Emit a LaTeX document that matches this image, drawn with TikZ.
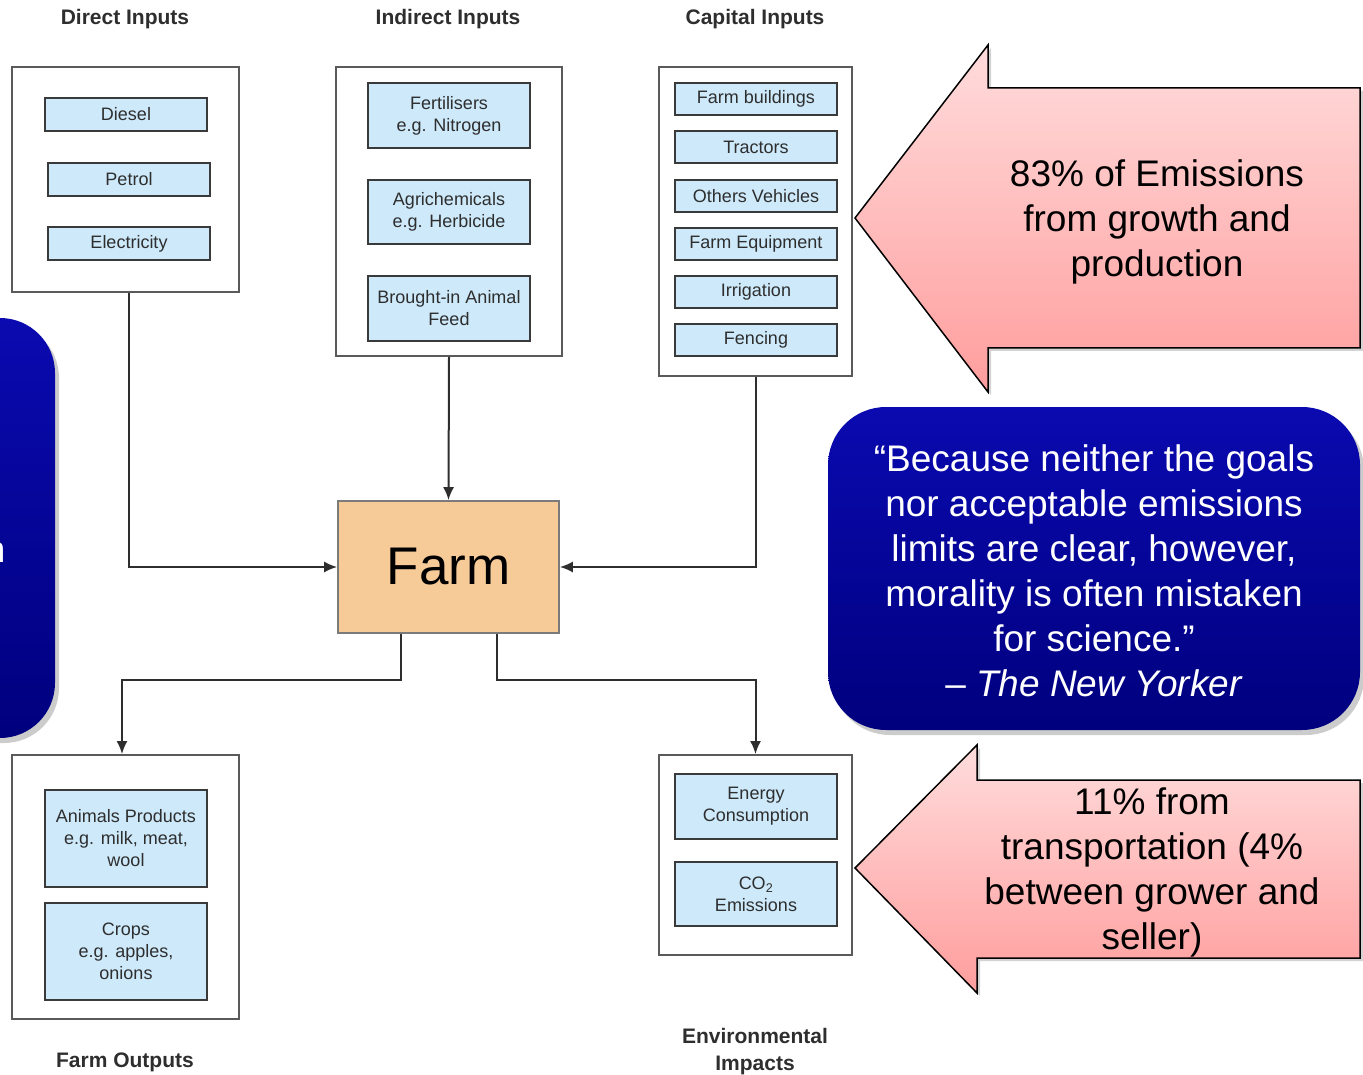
\documentclass[tikz,border=0pt]{standalone}
\usepackage{fontspec}
\setmainfont{Liberation Sans}
\usetikzlibrary{arrows.meta,calc,shadows}
\definecolor{boxblue}{HTML}{CDE9FA}
\definecolor{itemborder}{HTML}{3A3A3A}
\definecolor{outergray}{HTML}{5A5A5A}
\definecolor{textgray}{HTML}{2E2E2E}
\definecolor{farmfill}{HTML}{F7CB98}
\definecolor{pinktop}{HTML}{FFDCDC}
\definecolor{pinkbot}{HTML}{FF9D9D}
\definecolor{bluetop}{HTML}{0A0AB0}
\definecolor{bluebot}{HTML}{00007E}
\begin{document}
\begin{tikzpicture}[x=1pt,y=-1pt,
  outerbox/.style={draw=outergray, line width=1.8pt, fill=white, inner sep=0pt},
  item/.style={draw=itemborder, line width=1.6pt, fill=boxblue, inner sep=0pt,
    minimum width=162pt, align=center, font=\fontsize{18}{22}\selectfont, text=textgray},
  ttl/.style={font=\bfseries\fontsize{21}{27}\selectfont, text=textgray, align=center},
  conn/.style={draw=textgray, line width=2pt, -{Latex[length=13pt,width=11pt]}},
  bigtext/.style={font=\fontsize{37}{45}\selectfont, align=center},
  pinkarrow/.style={draw=black, line width=1.5pt, top color=pinktop, bottom color=pinkbot,
    drop shadow={shadow xshift=3pt, shadow yshift=-3pt, opacity=0.35, fill=gray}},
  bluebox/.style={top color=bluetop, bottom color=bluebot,
    drop shadow={shadow xshift=4pt, shadow yshift=-5pt, opacity=0.4, fill=gray}}]
\useasboundingbox (0,0) rectangle (1363,1075);

% left partial blue box
\path[bluebox, rounded corners=55pt] (-80,318) rectangle (55,738);
\node[text=white, font=\fontsize{37}{45}\selectfont, anchor=base east] (leftn) at (9,562) {n};

% titles
\node[ttl, anchor=base] (tdirect) at (125,25) {Direct Inputs};
\node[ttl, anchor=base] (tindirect) at (448,25) {Indirect Inputs};
\node[ttl, anchor=base] (tcapital) at (755,25) {Capital Inputs};
\node[ttl, anchor=base] (toutputs) at (125,1067) {Farm Outputs};
\node[ttl] (tenv) at (755,1052) {Environmental\\Impacts};

% outer boxes
\node[outerbox, minimum width=227pt, minimum height=225pt] (direct) at (125.5,179.5) {};
\node[outerbox, minimum width=226pt, minimum height=289pt] (indirect) at (449,211.5) {};
\node[outerbox, minimum width=193pt, minimum height=309pt] (capital) at (755.5,221.5) {};
\node[outerbox, minimum width=227pt, minimum height=264pt] (outputs) at (125.5,887) {};
\node[outerbox, minimum width=193pt, minimum height=200pt] (env) at (755.5,855) {};

% direct items
\node[item, minimum height=33pt] (diesel) at (126,114.5) {Diesel};
\node[item, minimum height=33pt] (petrol) at (129,179.5) {Petrol};
\node[item, minimum height=33pt] (elec) at (129,243.5) {Electricity};
% indirect items
\node[item, minimum height=65pt] (fert) at (449,115.5) {Fertilisers\\e.g. Nitrogen};
\node[item, minimum height=64pt] (agri) at (449,212) {Agrichemicals\\e.g. Herbicide};
\node[item, minimum height=65pt] (feed) at (449,308.5) {Brought-in Animal\\Feed};
% capital items
\node[item, minimum height=32pt] (build) at (756,99) {Farm buildings};
\node[item, minimum height=32pt] (tract) at (756,147) {Tractors};
\node[item, minimum height=32pt] (veh) at (756,196) {Others Vehicles};
\node[item, minimum height=32pt] (equip) at (756,244) {Farm Equipment};
\node[item, minimum height=32pt] (irr) at (756,292) {Irrigation};
\node[item, minimum height=32pt] (fence) at (756,340) {Fencing};
% outputs
\node[item, minimum height=97pt] (animal) at (126,838.5) {Animals Products\\e.g. milk, meat,\\wool};
\node[item, minimum height=97pt] (crops) at (126,951.5) {Crops\\e.g. apples,\\onions};
% environmental
\node[item, minimum height=65pt] (energy) at (756,806.5) {Energy\\Consumption};
\node[item, minimum height=64pt] (co2) at (756,894) {CO\textsubscript{2}\\Emissions};

% farm
\node[draw=outergray!80, line width=1.6pt, fill=farmfill, minimum width=221pt, minimum height=132pt,
  font=\fontsize{53}{60}\selectfont, inner sep=0pt] (farm) at (448.5,567) {Farm};

% connectors
\draw[conn] ([xshift=3.5pt]direct.south) |- (farm.west);
\draw[conn] (indirect.south) -- (farm.north);
\draw[conn] (capital.south) |- (farm.east);
\draw[conn] ($(farm.south)+(-47.5,0)$) |- ($(outputs.north)+(-3.5,-74)$) -- ([xshift=-3.5pt]outputs.north);
\draw[conn] ($(farm.south)+(48.5,0)$) |- ($(env.north)+(0,-74)$) -- (env.north);

% pink arrows
\path[pinkarrow] (855,218) -- (988,45) -- (988,88) -- (1360,88) -- (1360,348) -- (988,348) -- (988,392) -- cycle;
\node[bigtext] (t83) at (1157,222) {83\% of Emissions\\from growth and\\production};
\path[pinkarrow] (855,868) -- (977,745) -- (977,780) -- (1360,780) -- (1360,958) -- (977,958) -- (977,993) -- cycle;
\node[bigtext] (t11) at (1152,872) {11\% from\\transportation (4\%\\between grower and\\seller)};

% quote box
\node[bluebox, rounded corners=58pt, minimum width=532pt, minimum height=323pt, inner sep=0pt] (quotebox) at (1094,568.5) {};
\node[bigtext, text=white] (quote) at (1094,571) {“Because neither the goals\\nor acceptable emissions\\limits are clear, however,\\morality is often mistaken\\for science.”\\– \textit{The New Yorker}};
\end{tikzpicture}
\end{document}
